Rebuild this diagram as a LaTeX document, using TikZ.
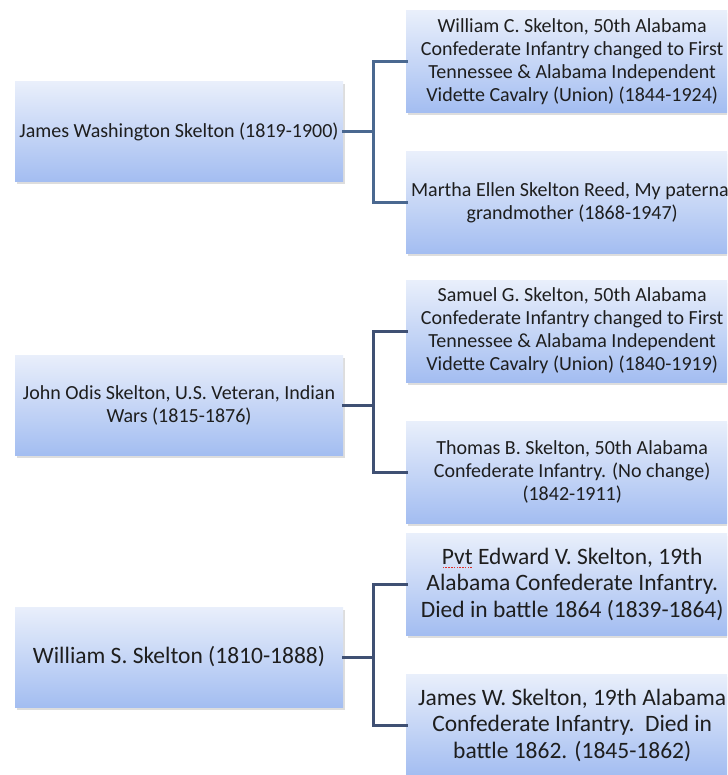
\documentclass[tikz,border=0pt]{standalone}
\usepackage{fontspec}
\setmainfont{Carlito}
\usetikzlibrary{positioning, calc, shadows}
\definecolor{cBoxTop}{HTML}{E9EFFB}
\definecolor{cBoxBot}{HTML}{A3BDF1}
\definecolor{cLink}{HTML}{4A6890}
\definecolor{cLinkDark}{HTML}{3F5073}
\definecolor{cText}{HTML}{1E1E1E}
\definecolor{cSpell}{HTML}{E0302A}
% red dotted "spell check" mark under a word
\newcommand\spellwave[1]{\leavevmode\setbox0\hbox{#1}%
  \rlap{\raisebox{-4pt}{\color{cSpell}\hbox to \wd0{\xleaders\hbox to 2.6pt{\hss\rule{1.5pt}{1.5pt}\hss}\hfill}}}\box0\relax}
\tikzset{
  famblock/.style={shading=axis, top color=cBoxTop, bottom color=cBoxBot,
    text=cText, align=center, inner sep=2pt,
    drop shadow={shadow xshift=1.5pt, shadow yshift=-2.5pt, opacity=0.22, fill=black!60}},
  parentblock/.style={famblock, minimum width=328pt, minimum height=100pt},
  childblock/.style={famblock, anchor=west, minimum width=332pt, minimum height=102pt},
  smalltext/.style={font=\fontsize{20}{23}\selectfont},
  largetext/.style={font=\fontsize{23.5}{26.5}\selectfont},
  link/.style={draw=cLink, line width=3pt, line join=miter, line cap=rect},
}

\begin{document}
\begin{tikzpicture}[x=1pt, y=-1pt]
  \clip (0,0) rectangle (727,775);

  % ==================================================================
  % Family 1: James Washington Skelton
  % ==================================================================
  \node[parentblock, smalltext] (jws) at (179,132)
    {James Washington Skelton (1819-1900)};

  \node[childblock, smalltext] (wcs) at (406,62)
    {William C. Skelton, 50th Alabama\\ Confederate Infantry changed to First\\
     Tennessee \& Alabama Independent\\ Vidette Cavalry (Union) (1844-1924)};

  \node[childblock, smalltext] (mes) at (406,203)
    {Martha Ellen Skelton Reed, My paternal\\ grandmother (1868-1947)};

  % ==================================================================
  % Family 2: John Odis Skelton
  % ==================================================================
  \node[parentblock, smalltext] (jos) at (179,405)
    {John Odis Skelton, U.S. Veteran, Indian\\ Wars (1815-1876)};

  \node[childblock, smalltext] (sgs) at (406,331)
    {Samuel G. Skelton, 50th Alabama\\ Confederate Infantry changed to First\\
     Tennessee \& Alabama Independent\\ Vidette Cavalry (Union) (1840-1919)};

  \node[childblock, smalltext] (tbs) at (406,472)
    {Thomas B. Skelton, 50th Alabama\\ Confederate Infantry. (No change)\\ (1842-1911)};

  % ==================================================================
  % Family 3: William S. Skelton
  % ==================================================================
  \node[parentblock, largetext] (wss) at (179,657)
    {William S. Skelton (1810-1888)};

  \node[childblock, largetext] (evs) at (406,584)
    {\spellwave{Pvt} Edward V. Skelton, 19th\\ Alabama Confederate Infantry.\\
     Died in battle 1864 (1839-1864)};

  \node[childblock, largetext] (jwk) at (406,725)
    {James W. Skelton, 19th Alabama\\ Confederate Infantry.\ \ Died in\\
     battle 1862. (1845-1862)};

  % ----------------------------------------------------------------
  % Connectors (forks)
  % ----------------------------------------------------------------
  \coordinate (jws-fork) at ($(jws.east)+(30,0)$);
  \draw[link] (jws.east) -- (jws-fork);
  \draw[link] (wcs.west) -- (jws-fork |- wcs.west) -- (jws-fork |- mes.west) -- (mes.west);

  \coordinate (jos-fork) at ($(jos.east)+(30,0)$);
  \draw[link, draw=cLinkDark] (jos.east) -- (jos-fork);
  \draw[link, draw=cLinkDark] (sgs.west) -- (jos-fork |- sgs.west) -- (jos-fork |- tbs.west) -- (tbs.west);

  \coordinate (wss-fork) at ($(wss.east)+(30,0)$);
  \draw[link, draw=cLinkDark] (wss.east) -- (wss-fork);
  \draw[link, draw=cLinkDark] (evs.west) -- (wss-fork |- evs.west) -- (wss-fork |- jwk.west) -- (jwk.west);

\end{tikzpicture}
\end{document}
